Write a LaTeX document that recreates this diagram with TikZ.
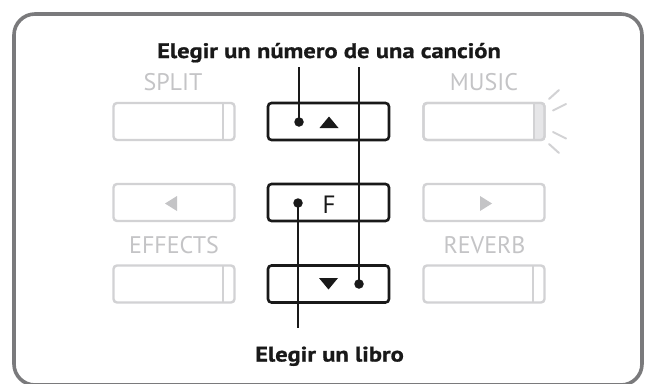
\documentclass[tikz,border=0pt]{standalone}
\usepackage{fontspec}
\setmainfont{PT Sans}
\newfontfamily\lblfont[FakeStretch=1.17,FakeBold=0.8]{PT Sans}
\definecolor{framegray}{HTML}{7A7A7C}
\definecolor{btngray}{HTML}{D2D2D4}
\definecolor{labgray}{HTML}{C4C4C6}
\definecolor{stripgray}{HTML}{E6E6E8}
\begin{document}
\begin{tikzpicture}[x=1pt,y=-1pt,
  graybtn/.style={draw=btngray,line width=2.4pt,rounded corners=3.5pt,minimum width=121pt,minimum height=37pt,inner sep=0pt,fill=white},
  blackbtn/.style={draw=black!90,line width=2.6pt,rounded corners=3.5pt,minimum width=121pt,minimum height=37pt,inner sep=0pt},
  graylab/.style={text=labgray,font=\fontsize{24}{24}\selectfont,inner sep=0pt,anchor=base},
  boldlab/.style={text=black!90,font=\lblfont\bfseries\fontsize{21}{21}\selectfont,inner sep=0pt,anchor=base},
  leader/.style={draw=black!90,line width=1.4pt},
  dotnode/.style={circle,fill=black!90,inner sep=0pt,minimum size=9.5pt},
  ray/.style={draw=btngray,line width=2pt,line cap=round},
  divider/.style={draw=btngray,line width=2pt}
]
\useasboundingbox (0,0) rectangle (648,383);
\fill[white] (0,0) rectangle (648,383);
% outer frame
\draw[draw=framegray,line width=3.6pt,rounded corners=21pt] (14,14) rectangle (642,385);

% labels
\node[boldlab] (top) at (329,58) {Elegir un número de una canción};
\node[boldlab] (bot) at (329.5,361.5) {Elegir un libro};
\node[graylab] (split) at (173,90.7) {SPLIT};
\node[graylab] (music) at (484,90.7) {MUSIC};
\node[graylab] (effects) at (174,253.3) {EFFECTS};
\node[graylab] (reverb) at (484.5,253.3) {REVERB};

% buttons
\node[graybtn] (b11) at (174,121.5) {};
\node[blackbtn] (b12) at (328.5,121.5) {};
\node[graybtn] (b13) at (484,121.5) {};
\node[graybtn] (b21) at (174,202.5) {};
\node[blackbtn] (b22) at (328.5,202.5) {};
\node[graybtn] (b23) at (484,202.5) {};
\node[graybtn] (b31) at (174,284) {};
\node[blackbtn] (b32) at (328.5,284) {};
\node[graybtn] (b33) at (484,284) {};

% dividers and strip
\draw[divider] (223,102) -- (223,141);
\draw[divider] (223,265) -- (223,303);
\draw[divider] (533,265) -- (533,303);
\fill[stripgray] (534,103.5) rectangle (543.3,139.5);
\draw[divider] (534,102) -- (534,141);
\node[graybtn,fill=none] at (484,121.5) {};

% rays
\draw[ray] (549,99) -- (559,90);
\draw[ray] (553,110.5) -- (566,104);
\draw[ray] (553,132) -- (566,138.5);
\draw[ray] (549,144) -- (559,153);

% symbols
\fill[black!90] (319.5,128) -- (338.5,128) -- (329,116.5) -- cycle;
\fill[black!90] (319,278) -- (338,278) -- (328.5,289.5) -- cycle;
\fill[labgray] (177,196) -- (177,211) -- (165,203.5) -- cycle;
\fill[labgray] (480,196) -- (480,211) -- (492,203.5) -- cycle;
\node[text=black!90,font=\fontsize{25}{25}\selectfont,inner sep=0pt,anchor=base] (f) at (329,213) {F};

% leaders
\node[dotnode] (d1) at (299,122) {};
\node[dotnode] (d2) at (359,284) {};
\node[dotnode] (d3) at (298,203) {};
\coordinate (t1) at (299,67);
\coordinate (t2) at (359,67);
\coordinate (t3) at (298,328);
\draw[leader] (t1) -- (d1.center);
\draw[leader] (t2) -- (d2.center);
\draw[leader] (d3.center) -- (t3);
\end{tikzpicture}
\end{document}
